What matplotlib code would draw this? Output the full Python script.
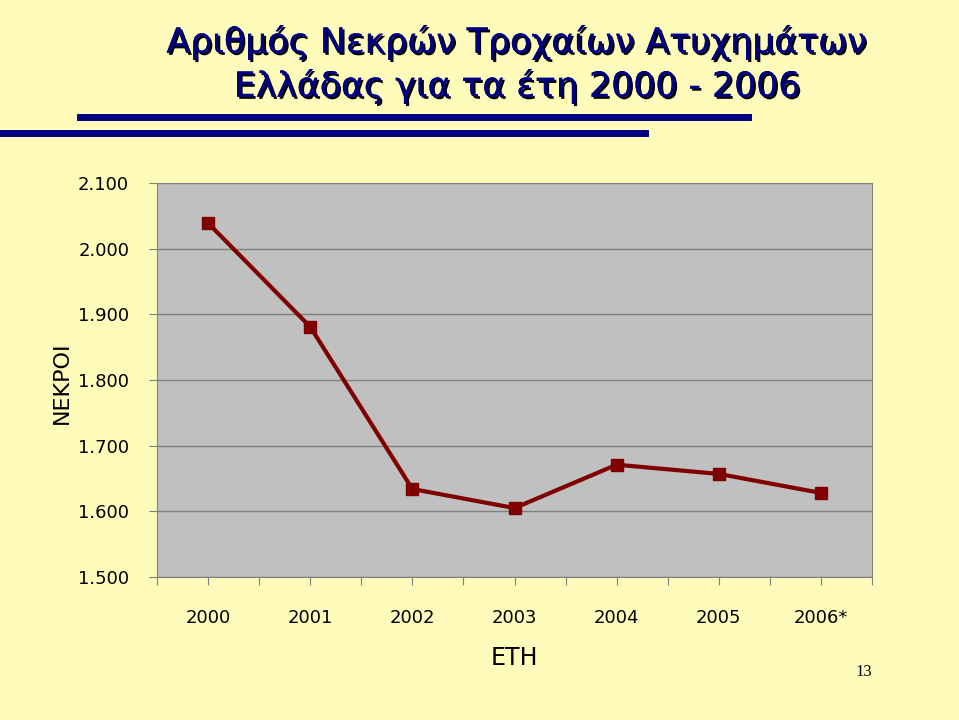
import numpy as np
import matplotlib.pyplot as plt
from matplotlib.lines import Line2D
import matplotlib.patheffects as pe

years = ['2000', '2001', '2002', '2003', '2004', '2005', '2006*']
deaths = [2039, 1881, 1634, 1605, 1671, 1657, 1628]
yticks = [1500, 1600, 1700, 1800, 1900, 2000, 2100]
ytick_labels = ['1.500', '1.600', '1.700', '1.800', '1.900', '2.000', '2.100']

bg = '#fffbbb'
fig = plt.figure(figsize=(9.59, 7.20), dpi=100, facecolor=bg)
ax = fig.add_axes([157/959, 1-577/720, 715/959, 394/720])
ax.set_facecolor('#c0c0c0')

x = np.arange(len(years))
ax.plot(x, deaths, color='#800000', lw=3, marker='s', ms=9, zorder=3)
ax.set_xlim(-0.5, len(years)-0.5)
ax.set_ylim(1500, 2100)
ax.set_yticks(yticks)
ax.set_yticklabels(ytick_labels, fontsize=13, family='DejaVu Sans')
ax.yaxis.grid(True, color='#808080', lw=1)
ax.set_axisbelow(True)
ax.set_xticks(np.arange(-0.5, len(years), 0.5), minor=False)
ax.set_xticklabels([])
ax.tick_params(axis='x', length=6, color='#808080', direction='out')
ax.tick_params(axis='y', length=6, color='#808080', pad=14)
for i, lab in enumerate(years):
    ax.text(i, -0.105, lab, transform=ax.get_xaxis_transform(), ha='center', va='center',
            fontsize=13, family='DejaVu Sans')
for s in ax.spines.values():
    s.set_color('#808080')
ax.set_xlabel('ΕΤΗ', fontsize=17, labelpad=40)
fig.text(62/959, 1-383/720, 'ΝΕΚΡΟΙ', rotation=90, ha='center', va='center', fontsize=16)

shadow = [pe.withSimplePatchShadow(offset=(1.5, -1.5), shadow_rgbFace='black', alpha=1), pe.Normal()]
fig.text(517/959, 1-42/720, 'Αριθμός Νεκρών Τροχαίων Ατυχημάτων', ha='center', va='center',
         fontsize=25, color='#000080', path_effects=shadow)
fig.text(517/959, 1-86/720, 'Ελλάδας για τα έτη 2000 - 2006', ha='center', va='center',
         fontsize=25, color='#000080', path_effects=shadow)
fig.add_artist(Line2D([80/959, 748/959], [1-117/720]*2, color='#000080', lw=5))
fig.add_artist(Line2D([0, 645/959], [1-133/720]*2, color='#000080', lw=5))
fig.text(864/959, 1-672/720, '13', ha='center', va='center', fontsize=12, family='Liberation Serif')

fig.savefig('out.png', facecolor=bg)
